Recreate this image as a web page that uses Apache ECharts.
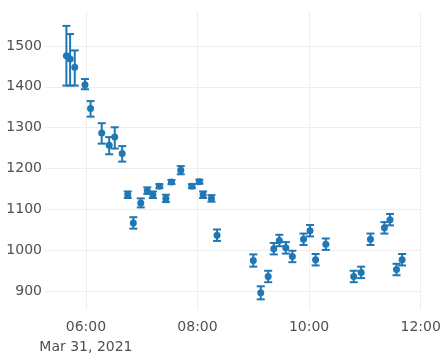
<!DOCTYPE html>
<html>
<head>
<meta charset="utf-8">
<title>Measurements with error bars</title>
<script src="https://cdn.jsdelivr.net/npm/echarts@6/dist/echarts.min.js"></script>
<style>
  html, body { margin: 0; padding: 0; background: #fff; }
  #chart { width: 447px; height: 357px; }
</style>
</head>
<body>
<div id="chart"></div>
<script>
// Sample times (Mar 31, 2021, local time)
const times = [
  '05:39', '05:43', '05:48', '05:59', '06:05', '06:17', '06:25', '06:31', '06:39',
  '06:45', '06:51', '06:59', '07:06', '07:12', '07:19', '07:26', '07:32', '07:42',
  '07:54', '08:02', '08:06', '08:15', '08:21',
  '09:00', '09:08', '09:16', '09:22', '09:28', '09:35', '09:42', '09:54', '10:01',
  '10:07', '10:18', '10:48', '10:56', '11:06', '11:21', '11:27', '11:34', '11:40'
];
// Measured values
const values = [
  1476, 1468, 1448, 1405, 1347, 1287, 1257, 1277, 1237,
  1136, 1067, 1116, 1146, 1136, 1157, 1127, 1167, 1196,
  1157, 1168, 1136, 1127, 1037,
  975, 896, 936, 1004, 1024, 1006, 985, 1027, 1048,
  977, 1015, 936, 946, 1027, 1055, 1075, 953, 977
];
// Upper error (distance above value)
const errPlus = [
  73, 61, 41, 14, 18, 24, 20, 24, 18,
  8, 14, 11, 8, 8, 5, 9, 5, 10,
  5, 5, 8, 8, 14,
  15, 16, 14, 14, 14, 14, 14, 14, 14,
  14, 14, 14, 14, 14, 14, 14, 14, 14
];
// Lower error (distance below value)
const errMinus = [
  73, 65, 45, 11, 20, 26, 22, 28, 20,
  8, 14, 11, 8, 8, 5, 9, 5, 10,
  5, 5, 8, 8, 14,
  15, 16, 14, 14, 14, 14, 14, 14, 14,
  14, 14, 14, 14, 14, 14, 14, 14, 14
];
const yTicks = [900, 1000, 1100, 1200, 1300, 1400, 1500];
const xTickTimes = ['06:00', '08:00', '10:00', '12:00'];
const day = '2021-03-31';

const toTs = t => new Date(day + 'T' + t + ':00').getTime();
const pad = n => (n < 10 ? '0' : '') + n;

const points = times.map((t, i) => [toTs(t), values[i]]);
const bars = times.map((t, i) => [toTs(t), values[i] - errMinus[i], values[i] + errPlus[i]]);
const xTicks = xTickTimes.map(toTs);

const color = '#1f77b4';
const chart = echarts.init(document.getElementById('chart'), null, { renderer: 'canvas' });

chart.setOption({
  animation: false,
  backgroundColor: '#fff',
  grid: { left: 45, right: 26, top: 12, bottom: 42 },
  xAxis: {
    type: 'value',
    min: toTs('05:16'),
    max: toTs('12:00') + 20000,
    axisLine: { show: false },
    axisTick: { show: false, customValues: xTicks },
    splitLine: { show: true, lineStyle: { color: '#eeeeee', width: 1 } },
    axisLabel: {
      customValues: xTicks,
      color: '#505050',
      fontFamily: 'DejaVu Sans',
      fontSize: 14,
      margin: 7,
      lineHeight: 20,
      formatter: function (v) {
        const d = new Date(v);
        const s = pad(d.getHours()) + ':' + pad(d.getMinutes());
        return s === '06:00' ? s + '\nMar 31, 2021' : s;
      }
    }
  },
  yAxis: {
    type: 'value',
    min: 854,
    max: 1583,
    axisLine: { show: false },
    axisTick: { show: false, customValues: yTicks },
    splitLine: { show: true, lineStyle: { color: '#eeeeee', width: 1 } },
    axisLabel: {
      customValues: yTicks,
      color: '#505050',
      fontFamily: 'DejaVu Sans',
      fontSize: 14,
      margin: 3,
      formatter: v => String(v)
    }
  },
  series: [
    {
      type: 'custom',
      name: 'error',
      data: bars,
      encode: { x: 0, y: [1, 2] },
      renderItem: function (params, api) {
        const x = api.value(0);
        const lo = api.coord([x, api.value(1)]);
        const hi = api.coord([x, api.value(2)]);
        const half = 4;
        const style = { stroke: color, lineWidth: 2, fill: null };
        return {
          type: 'group',
          children: [
            { type: 'line', shape: { x1: lo[0], y1: lo[1], x2: hi[0], y2: hi[1] }, style: style },
            { type: 'line', shape: { x1: lo[0] - half, y1: lo[1], x2: lo[0] + half, y2: lo[1] }, style: style },
            { type: 'line', shape: { x1: hi[0] - half, y1: hi[1], x2: hi[0] + half, y2: hi[1] }, style: style }
          ]
        };
      },
      z: 2
    },
    {
      type: 'scatter',
      name: 'value',
      data: points,
      symbol: 'circle',
      symbolSize: 7,
      itemStyle: { color: color, opacity: 1 },
      z: 3
    }
  ]
});
</script>
</body>
</html>
